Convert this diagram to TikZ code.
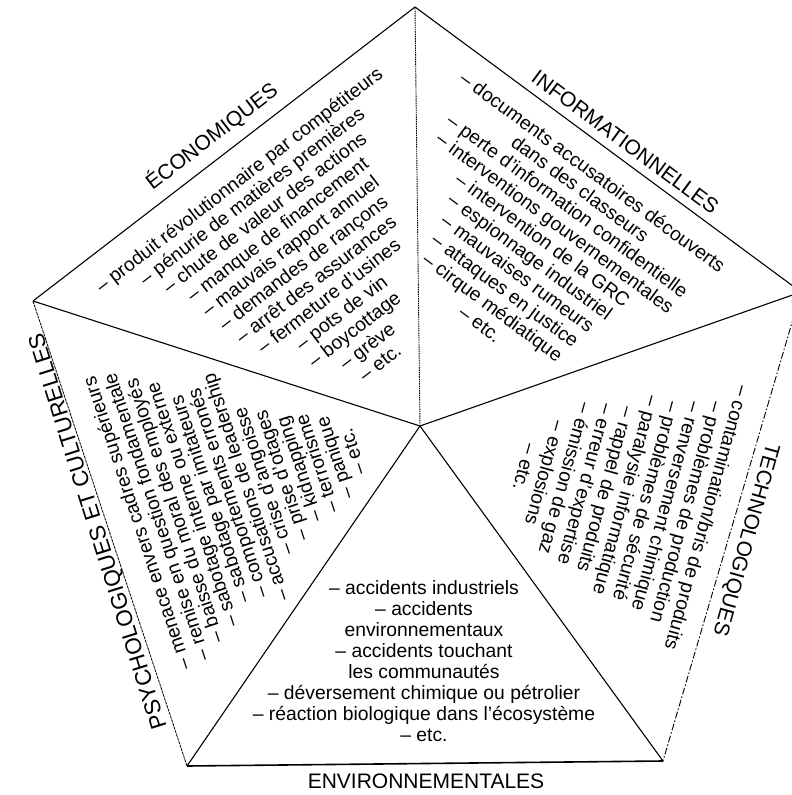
\documentclass[tikz,border=0pt]{standalone}
\usepackage{fontspec}
\setmainfont{Liberation Sans}
\begin{document}
\begin{tikzpicture}[x=1pt,y=-1pt,
  edge/.style={line width=1.1pt, black},
  lst/.style={font=\fontsize{19.3}{21}\selectfont, align=center, inner sep=0pt},
  lstp/.style={font=\fontsize{19.3}{18.8}\selectfont, align=center, inner sep=0pt},
  ttl/.style={font=\fontsize{21}{24}\selectfont, inner sep=0pt, anchor=base}]
\useasboundingbox (0,0) rectangle (792,795);
% vertices
\coordinate (T) at (415,7);
\coordinate (R) at (801,292);
\coordinate (BR) at (663,761);
\coordinate (BL) at (187,766);
\coordinate (L) at (33,301);
\coordinate (C) at (420,426);
% outline
\draw[edge] (T) -- (L);
\draw[edge] (T) -- (R);
\draw[edge, line width=0.8pt, dash pattern=on 3pt off 0.8pt] (L) -- (BL);
\draw[edge, line width=1.6pt] (BL) -- (BR);
\draw[edge, line width=0.9pt, dash pattern=on 7pt off 2pt on 1.5pt off 2pt] (R) -- (BR);
% spokes
\draw[edge, line width=0.9pt, dash pattern=on 1.5pt off 0.8pt] (C) -- (T);
\draw[edge] (C) -- (L);
\draw[edge] (C) -- (R);
\draw[edge] (C) -- (BL);
\draw[edge] (C) -- (BR);
% titles
\node[ttl, rotate=37.6] (teco) at (216,142) {ÉCONOMIQUES};
\node[ttl, rotate=-36.5] (tinf) at (621,148) {INFORMATIONNELLES};
\node[ttl, rotate=-105.5] (ttec) at (740,538) {TECHNOLOGIQUES};
\node[ttl, rotate=107.5, font=\fontsize{22.5}{24}\selectfont] (tpsy) at (104.6,529.5) {PSYCHOLOGIQUES ET CULTURELLES};
\node[ttl] (tenv) at (426,788) {ENVIRONNEMENTALES};
% lists
\node[lst, rotate=37.6] (leco) at (311,273) {\strut– produit révolutionnaire par compétiteurs\\
– pénurie de matières premières\\
– chute de valeur des actions\\
– manque de financement\\
– mauvais rapport annuel\\
– demandes de rançons\\
– arrêt des assurances\\
– fermeture d'usines\\
– pots de vin\\
– boycottage\\
– grève\\
– etc.\strut};
\node[lst, rotate=-36.5] (linf) at (535,250) {\strut– documents accusatoires découverts\\
dans des classeurs\\
– perte d'information confidentielle\\
– interventions gouvernementales\\
– intervention de la GRC\\
– espionnage industriel\\
– mauvaises rumeurs\\
– attaques en justice\\
– cirque médiatique\\
– etc.\strut};
\node[lst, rotate=-105.5] (ltec) at (614,492) {\strut– contamination/bris de produits\\
– problèmes de production\\
– renversement chimique\\
– problèmes de sécurité\\
– paralysie informatique\\
– rappel de produits\\
– erreur d'expertise\\
– émission de gaz\\
– explosions\\
– etc.\strut};
\node[lstp, rotate=108.3] (lpsy) at (247,487) {\strut– menace envers cadres supérieurs\\
– remise en question fondamentale\\
– baisse du moral des employés\\
– sabotage interne ou externe\\
– sabotage par imitateurs\\
– comportements erronés\\
– accusations de leadership\\
– crise d'angoisse\\
– prise d'otages\\
– kidnapping\\
– terrorisme\\
– panique\\
– etc.\strut};
\node[lst] (lenv) at (424,664) {\strut– accidents industriels\\
– accidents\\
environnementaux\\
– accidents touchant\\
les communautés\\
– déversement chimique ou pétrolier\\
– réaction biologique dans l'écosystème\\
– etc.\strut};
\end{tikzpicture}
\end{document}
